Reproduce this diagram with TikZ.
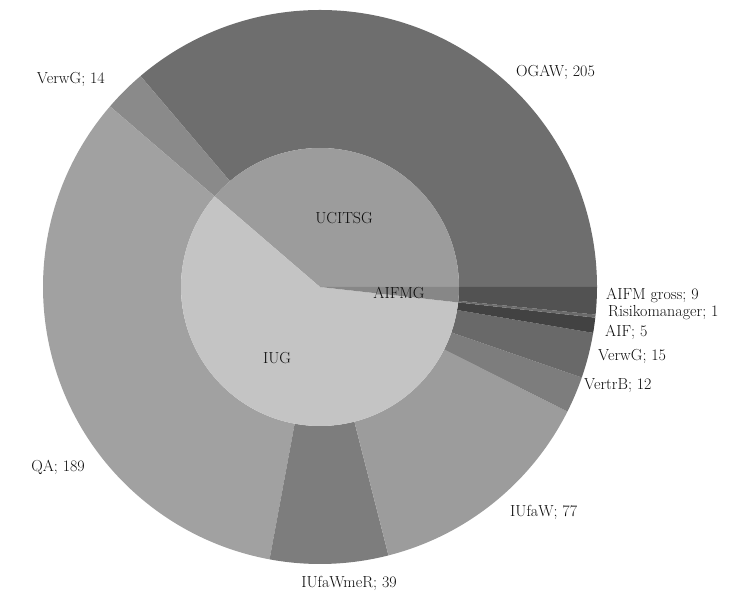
\documentclass[tikz,border=0pt]{standalone}
\begin{document}
\begin{tikzpicture}[x=1pt,y=1pt,
  lbl/.style={font=\fontsize{16}{19}\selectfont,text=black!95,inner sep=1pt}]
\useasboundingbox (0,0) rectangle (751,594);
\def\dg{0.636042}% degrees per unit, 360/566
\begin{scope}[shift={(320,307)}]
% outer ring, counted counterclockwise from 3 o'clock (total 566)
\foreach \s/\e/\c in {0/205/black!57, 205/219/black!46, 219/408/black!37,
  408/447/black!51, 447/524/black!39, 524/536/black!51, 536/551/black!59,
  551/556/black!74, 556/557/black!58, 557/566/black!68}
  \fill[\c] ({\s*\dg}:139) -- ({\s*\dg}:277)
    arc[start angle={\s*\dg},end angle={\e*\dg},radius=277]
    -- ({\e*\dg}:139)
    arc[start angle={\e*\dg},end angle={\s*\dg},radius=139] -- cycle;
% inner pie
\foreach \s/\e/\c in {0/219/black!39, 219/556/black!23, 556/566/black!47}
  \fill[\c] (0,0) -- ({\s*\dg}:139)
    arc[start angle={\s*\dg},end angle={\e*\dg},radius=139] -- cycle;
\end{scope}
% inner labels
\node[lbl] (ucitsg) at (344,376) {UCITSG};
\node[lbl] (aifmg) at (399,301) {AIFMG};
\node[lbl] (iug) at (277,236) {IUG};
% outer labels
\node[lbl,anchor=west] (ogaw) at (515,522) {OGAW; 205};
\node[lbl,anchor=east] (verwg14) at (106,515) {VerwG; 14};
\node[lbl,anchor=east] (qa) at (86,127) {QA; 189};
\node[lbl] (iufawmer) at (349,11) {IUfaWmeR; 39};
\node[lbl,anchor=west] (iufaw) at (509,82) {IUfaW; 77};
\node[lbl,anchor=west] (vertrb) at (583,208) {VertrB; 12};
\node[lbl,anchor=west] (verwg15) at (597,238) {VerwG; 15};
\node[lbl,anchor=west] (aif) at (604,262) {AIF; 5};
\node[lbl,anchor=west] (risiko) at (607,281) {Risikomanager; 1};
\node[lbl,anchor=west] (aifmgross) at (605,299) {AIFM gross; 9};
\end{tikzpicture}
\end{document}
